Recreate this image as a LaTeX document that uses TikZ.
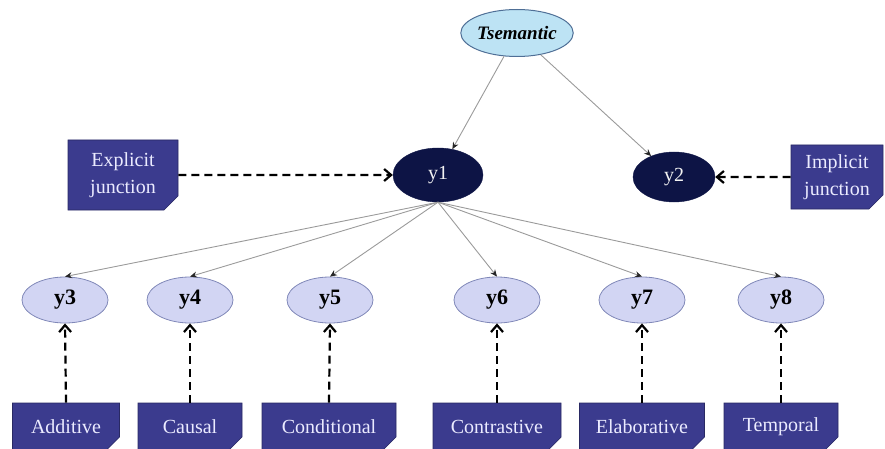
\documentclass[tikz,border=0pt]{standalone}
\usepackage{fontspec}
\setmainfont{Liberation Serif}
\usetikzlibrary{shapes.geometric,shapes.misc,arrows.meta}
\definecolor{topfill}{HTML}{BDE3F4}
\definecolor{topdraw}{HTML}{4F6F96}
\definecolor{navy}{HTML}{0D1445}
\definecolor{lav}{HTML}{D2D5F3}
\definecolor{lavdraw}{HTML}{8088B8}
\definecolor{boxfill}{HTML}{3B3B8E}
\definecolor{edgegray}{HTML}{9A9A9A}
\tikzset{
  topnode/.style={ellipse, fill=topfill, draw=topdraw, line width=1pt, minimum width=112pt, minimum height=47pt, inner sep=0pt, font=\fontsize{19}{20}\selectfont\bfseries\itshape},
  darknode/.style={ellipse, fill=navy, draw=navy, minimum width=90pt, minimum height=54pt, inner sep=0pt, text=white!90!gray, font=\fontsize{20}{22}\selectfont},
  leafnode/.style={ellipse, fill=lav, draw=lavdraw, line width=0.8pt, minimum width=86pt, minimum height=46pt, inner sep=0pt, font=\fontsize{22}{24}\selectfont\bfseries},
  tagbox/.style={chamfered rectangle, chamfered rectangle corners={south east}, chamfered rectangle xsep=7pt, chamfered rectangle ysep=7pt, fill=boxfill, draw=boxfill!70!black, line width=0.6pt, inner sep=0pt, text=white!92!blue, font=\fontsize{20}{27}\selectfont, align=center},
  solidarrow/.style={draw=edgegray, line width=0.9pt, -{Stealth[length=7pt, width=6pt, color=black!85]}},
  dasharrow/.style={draw=black, line width=2.2pt, dash pattern=on 8pt off 5pt, -{Straight Barb[length=7pt, width=12pt, line width=2.2pt]}}
}
\begin{document}
\begin{tikzpicture}[x=1pt, y=-1pt]
\useasboundingbox (0,0) rectangle (885,449);
% main nodes
\node[topnode] (ts) at (517,33) {Tsemantic};
\node[darknode] (y1) at (438,175) {y1};
\node[darknode, minimum width=82pt, minimum height=50pt] (y2) at (674,177) {y2};
% leaves
\node[leafnode] (y3) at (65,300) {y3};
\node[leafnode] (y4) at (190,300) {y4};
\node[leafnode] (y5) at (330,300) {y5};
\node[leafnode] (y6) at (497,300) {y6};
\node[leafnode] (y7) at (642,300) {y7};
\node[leafnode] (y8) at (781,300) {y8};
% junction boxes
\node[tagbox, minimum width=110pt, minimum height=70pt] (exp) at (123,175) {Explicit\\junction};
\node[tagbox, minimum width=92pt, minimum height=64pt] (imp) at (837,177) {Implicit\\junction};
% bottom boxes
\node[tagbox, minimum width=107pt, minimum height=48pt] (b3) at (66,427) {Additive};
\node[tagbox, minimum width=104pt, minimum height=48pt] (b4) at (190,427) {Causal};
\node[tagbox, minimum width=134pt, minimum height=48pt] (b5) at (329,427) {Conditional};
\node[tagbox, minimum width=128pt, minimum height=48pt] (b6) at (497,427) {Contrastive};
\node[tagbox, minimum width=125pt, minimum height=48pt] (b7) at (642,427) {Elaborative};
\node[tagbox, minimum width=114pt, minimum height=48pt] (b8) at (781,427) {Temporal};
% solid edges
\draw[solidarrow] (ts) -- (y1);
\draw[solidarrow] (ts) -- (y2);
\foreach \t in {y3,y4,y5,y6,y7,y8}{
  \draw[solidarrow] (y1.south) -- (\t.north);
}
% dashed edges
\draw[dasharrow] (exp) -- (y1);
\draw[dasharrow] (imp) -- (y2);
\foreach \b/\t in {b3/y3,b4/y4,b5/y5,b6/y6,b7/y7,b8/y8}{
  \draw[dasharrow] (\b.north) -- (\t.south);
}
\end{tikzpicture}
\end{document}
